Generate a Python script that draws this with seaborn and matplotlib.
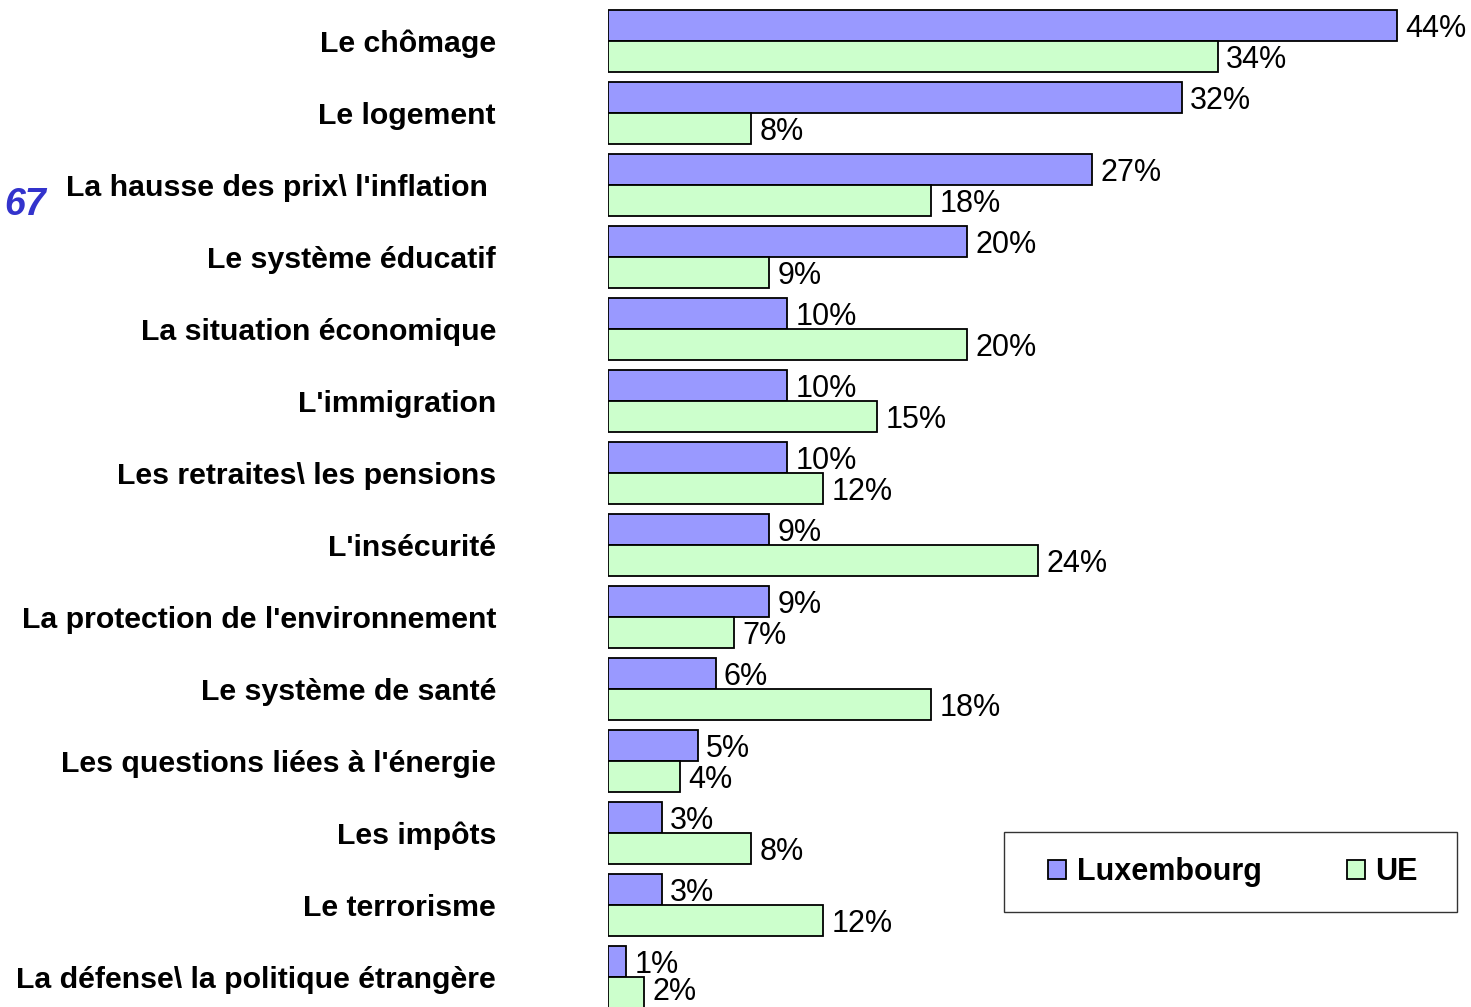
import matplotlib
matplotlib.use('Agg')
import matplotlib.pyplot as plt
import seaborn as sns
import pandas as pd

categories = ['Le chômage', 'Le logement', "La hausse des prix\\ l'inflation ",
              'Le système éducatif', 'La situation économique', "L'immigration",
              'Les retraites\\ les pensions', "L'insécurité",
              "La protection de l'environnement", 'Le système de santé',
              "Les questions liées à l'énergie", 'Les impôts', 'Le terrorisme',
              'La défense\\ la politique étrangère']
luxembourg = [44, 32, 27, 20, 10, 10, 10, 9, 9, 6, 5, 3, 3, 1]
ue = [34, 8, 18, 9, 20, 15, 12, 24, 7, 18, 4, 8, 12, 2]
series = ['Luxembourg', 'UE']
colors = ['#9999FF', '#CCFFCC']

df = pd.DataFrame({
    'cat': categories * 2,
    'val': luxembourg + ue,
    'serie': ['Luxembourg'] * len(categories) + ['UE'] * len(categories),
})

sns.set_style('white')
plt.rcParams['font.family'] = ['Liberation Sans', 'DejaVu Sans']
plt.rcParams['text.color'] = 'black'

fig = plt.figure(figsize=(14.71, 10.07), dpi=100)
ax = fig.add_axes([608 / 1471, 0, (1460 - 608) / 1471, 1])

sns.barplot(data=df, y='cat', x='val', hue='serie', orient='h',
            palette=colors, saturation=1, edgecolor='black', linewidth=1.3,
            width=0.86, ax=ax, legend=False)

for cont in ax.containers:
    texts = ax.bar_label(cont, fmt='%d%%', padding=6, fontsize=22, color='black')
    for t in texts:
        t.set_va('center_baseline')
# last label sits at the bottom edge: lift it a little so it is not cut
last = texts[-1]
lx, ly = last.xy
last.xy = (lx, ly - 0.06)

ax.set_xlim(0, 47.5)
ax.set_ylim(13.417, -0.569)
ax.set_xticks([])
ax.set_xlabel('')
ax.set_ylabel('')
ax.tick_params(axis='y', length=0, pad=112 * 0.72)
for lab in ax.get_yticklabels():
    lab.set_fontweight('bold')
    lab.set_fontsize(21.8)
    lab.set_color('black')
for s in ax.spines.values():
    s.set_visible(False)

fig.text(4 / 1471, 1 - 205 / 1007, '67', color='#3333CC', fontsize=27,
         fontweight='bold', fontstyle='italic', va='center', ha='left')

# legend frame drawn separately so the box size matches
frame = plt.Rectangle((1004 / 1471, 1 - 912 / 1007), 453 / 1471, 80 / 1007,
                      transform=fig.transFigure, facecolor='white',
                      edgecolor='#333333', linewidth=1.0, zorder=5)
fig.patches.append(frame)

handles = [plt.Rectangle((0, 0), 1, 1, facecolor=c, edgecolor='black', linewidth=1.3)
           for c in colors]
leg = fig.legend(handles, series, loc='center',
                 bbox_to_anchor=(1233 / 1471, 1 - 872 / 1007),
                 ncol=2, frameon=False, borderaxespad=0, borderpad=0,
                 prop={'weight': 'bold', 'size': 22}, handlelength=0.6,
                 handleheight=0.6, handletextpad=0.33, columnspacing=2.8,
                 labelcolor='black')
leg.set_zorder(6)

fig.savefig('out.png', dpi=100)
